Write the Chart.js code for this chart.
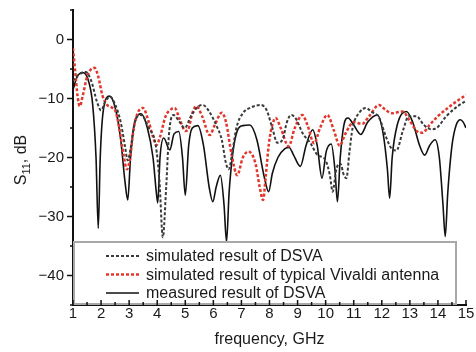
<!DOCTYPE html>
<html>
<head>
<meta charset="utf-8">
<script src="https://cdn.jsdelivr.net/npm/chart.js@4.4.1/dist/chart.umd.min.js"></script>
<style>
  html, body { margin: 0; padding: 0; background: #fff; }
  #wrap { width: 476px; height: 352px; }
</style>
</head>
<body>
<div id="wrap"><canvas id="s11"></canvas></div>
<script>
// S11 of the antennas
const xTicks = [1, 2, 3, 4, 5, 6, 7, 8, 9, 10, 11, 12, 13, 14, 15];
const yTicks = [0, -10, -20, -30, -40];

const simFreq = [1.0, 1.2, 1.45, 1.65, 1.85, 2.0, 2.15, 2.32, 2.5, 2.7, 2.85, 2.95, 3.05, 3.2, 3.43, 3.7, 3.95, 4.08, 4.2, 4.32, 4.42, 4.58, 4.8, 4.98, 5.2, 5.45, 5.62, 5.85, 6.1, 6.3, 6.45, 6.55, 6.68, 6.82, 7.05, 7.35, 7.69, 7.9, 8.1, 8.28, 8.48, 8.62, 8.78, 8.95, 9.18, 9.45, 9.7, 10.0, 10.15, 10.25, 10.38, 10.52, 10.65, 10.74, 10.85, 10.96, 11.2, 11.43, 11.65, 11.9, 12.15, 12.35, 12.52, 12.75, 12.96, 13.23, 13.5, 13.75, 13.95, 14.3, 14.65, 15.0];
const simDb = [-7, -6, -5.5, -7, -10.5, -12, -10.5, -9.7, -11, -14, -18, -20.5, -18.5, -14, -12.8, -15, -18, -24, -33.5, -25, -16, -12.8, -14, -15, -13, -11.4, -11.1, -12.2, -14.5, -17, -21, -22, -19, -15, -12.5, -11.5, -11.1, -12, -15, -17.5, -16.8, -14, -12.8, -13.5, -15.9, -17.5, -19.5, -20.5, -23, -25.8, -22, -21, -23, -23.5, -19, -15, -12.4, -11.6, -12.3, -13.2, -16.5, -18.5, -18.8, -15.5, -13, -13, -14.5, -15.2, -15, -13, -11.5, -10.4];

const vivFreq = [1.0, 1.08, 1.16, 1.24, 1.35, 1.5, 1.65, 1.77, 1.9, 2.05, 2.2, 2.37, 2.5, 2.65, 2.8, 2.92, 3.02, 3.15, 3.3, 3.49, 3.7, 3.85, 3.97, 4.1, 4.3, 4.5, 4.62, 4.8, 5.0, 5.1, 5.25, 5.4, 5.6, 5.87, 6.05, 6.3, 6.45, 6.65, 6.85, 7.05, 7.25, 7.5, 7.65, 7.77, 7.87, 7.98, 8.1, 8.22, 8.4, 8.68, 8.9, 9.17, 9.35, 9.59, 9.8, 10.06, 10.3, 10.5, 10.7, 11.0, 11.3, 11.55, 11.9, 12.15, 12.38, 12.6, 12.74, 13.0, 13.27, 13.45, 13.7, 14.0, 14.3, 14.6, 15.0];
const vivDb = [-1.5, -5.5, -9.5, -11.3, -9.5, -6.3, -5, -4.8, -6.3, -9.5, -11, -11.5, -12, -15, -19.5, -22, -20.5, -15.5, -12.5, -11.6, -14, -16.5, -17.9, -16.5, -13, -11.8, -11.6, -13.5, -15.5, -15.3, -12.5, -11.3, -13, -16.2, -14.5, -12.4, -14, -19.5, -23, -20, -19, -21, -25, -27.2, -23, -17.6, -14.5, -13.3, -15, -18.1, -15, -12.8, -14.5, -17.6, -15, -12.8, -15.5, -18, -16, -14, -14.3, -13, -11.1, -12, -12.5, -12.3, -12.2, -13.8, -15.6, -15.8, -14.5, -13, -11.8, -10.7, -9.4];

const measFreq = [1.0, 1.15, 1.35, 1.55, 1.7, 1.82, 1.9, 1.97, 2.08, 2.3, 2.5, 2.7, 2.85, 2.95, 3.05, 3.2, 3.43, 3.65, 3.85, 3.97, 4.02, 4.1, 4.23, 4.45, 4.6, 4.77, 4.9, 5.0, 5.12, 5.25, 5.45, 5.65, 5.85, 5.98, 6.1, 6.25, 6.38, 6.47, 6.56, 6.7, 6.85, 7.05, 7.3, 7.55, 7.8, 7.97, 8.1, 8.3, 8.55, 8.7, 8.85, 9.1, 9.3, 9.54, 9.7, 9.87, 10.02, 10.2, 10.33, 10.42, 10.52, 10.65, 10.8, 11.0, 11.25, 11.5, 11.84, 12.05, 12.2, 12.28, 12.37, 12.55, 12.88, 13.1, 13.35, 13.53, 13.7, 13.9, 14.05, 14.18, 14.26, 14.35, 14.5, 14.65, 14.8, 14.9, 15.0];
const measDb = [-8.5, -6.3, -5.6, -7, -11, -20, -32, -20, -12, -9.6, -11.5, -17, -24, -27.2, -20, -14, -12.6, -15, -20, -26, -27.7, -20, -16.7, -18.7, -16, -15.6, -20, -26.4, -18, -15, -14.6, -18, -25, -27.5, -25, -23, -28, -34.3, -26, -19, -15.5, -14.6, -14.5, -17, -23, -25.8, -22.7, -20, -18.5, -18.3, -19.5, -21.5, -18, -15.3, -18, -23.5, -19, -17.7, -22, -27.5, -20, -14.5, -13.3, -14.5, -16.1, -14, -12.8, -16, -22, -26.9, -20, -14.5, -12.2, -14, -18, -19.6, -18, -17, -20, -28, -33.4, -26, -18, -14.5, -13.6, -14, -15];

const FONT = '"Liberation Sans", Arial, sans-serif';

function pts(xs, ys) {
  return xs.map((x, i) => ({ x: x, y: ys[i] }));
}

// inward x ticks, outward y ticks, axis titles and the boxed legend
const decorPlugin = {
  id: 'decor',
  afterDatasetsDraw(chart) {
    const ctx = chart.ctx;
    const a = chart.chartArea;

    // legend box sits on the x axis
    const bx = a.left + 1, by = a.bottom - 63, bw = 382, bh = 62;
    ctx.save();
    ctx.fillStyle = '#fff';
    ctx.fillRect(bx, by, bw, bh);
    ctx.strokeStyle = '#a8a8a8';
    ctx.lineWidth = 2;
    ctx.strokeRect(bx, by, bw, bh);
    const rows = [a.bottom - 49, a.bottom - 30.5, a.bottom - 12];
    chart.data.datasets.forEach((ds, i) => {
      const y = rows[i];
      ctx.beginPath();
      ctx.strokeStyle = ds.borderColor;
      ctx.lineWidth = ds.borderWidth;
      ctx.setLineDash(ds.borderDash || []);
      ctx.moveTo(106, y);
      ctx.lineTo(139, y);
      ctx.stroke();
      ctx.setLineDash([]);
      ctx.fillStyle = '#1a1a1a';
      ctx.font = '16px ' + FONT;
      ctx.textBaseline = 'middle';
      ctx.textAlign = 'left';
      ctx.fillText(ds.label, 146, y + 1);
    });
    ctx.restore();
  },
  afterDraw(chart) {
    const ctx = chart.ctx;
    const xs = chart.scales.x, ys = chart.scales.y;
    const a = chart.chartArea;
    ctx.save();
    ctx.strokeStyle = '#111';
    ctx.lineWidth = 1.5;
    ctx.beginPath();
    for (let v = 1; v <= 15; v += 0.5) {
      const px = xs.getPixelForValue(v);
      const len = Number.isInteger(v) ? 5 : 3;
      ctx.moveTo(px, a.bottom);
      ctx.lineTo(px, a.bottom - len);
    }
    for (let v = -45; v <= 5; v += 5) {
      const py = ys.getPixelForValue(v);
      const len = v % 10 === 0 ? 6 : 3;
      ctx.moveTo(a.left, py);
      ctx.lineTo(a.left - len, py);
    }
    ctx.stroke();

    // axis titles
    ctx.fillStyle = '#1a1a1a';
    ctx.font = '16px ' + FONT;
    ctx.textAlign = 'center';
    ctx.textBaseline = 'middle';
    ctx.fillText('frequency, GHz', (a.left + a.right) / 2, 340);

    ctx.translate(22, 160);
    ctx.rotate(-Math.PI / 2);
    const big = '16px ' + FONT, small = '11px ' + FONT;
    ctx.font = big; const wS = ctx.measureText('S').width; const wT = ctx.measureText(', dB').width;
    ctx.font = small; const w11 = ctx.measureText('11').width;
    let x0 = -(wS + w11 + wT) / 2;
    ctx.textAlign = 'left';
    ctx.textBaseline = 'middle';
    ctx.font = big; ctx.fillText('S', x0, 0); x0 += wS;
    ctx.font = small; ctx.fillText('11', x0, 5); x0 += w11;
    ctx.font = big; ctx.fillText(', dB', x0, 0);
    ctx.restore();
  }
};

new Chart(document.getElementById('s11').getContext('2d'), {
  type: 'line',
  data: {
    datasets: [
      {
        label: 'simulated result of DSVA',
        data: pts(simFreq, simDb),
        borderColor: '#3a3a3a',
        borderWidth: 2,
        borderDash: [3, 2],
        pointRadius: 0,
        cubicInterpolationMode: 'monotone',
        fill: false
      },
      {
        label: 'simulated result of typical Vivaldi antenna',
        data: pts(vivFreq, vivDb),
        borderColor: '#e2372c',
        borderWidth: 2.5,
        borderDash: [3, 2],
        pointRadius: 0,
        cubicInterpolationMode: 'monotone',
        fill: false
      },
      {
        label: 'measured result of DSVA',
        data: pts(measFreq, measDb),
        borderColor: '#111',
        borderWidth: 1.6,
        pointRadius: 0,
        cubicInterpolationMode: 'monotone',
        fill: false
      }
    ]
  },
  options: {
    responsive: true,
    maintainAspectRatio: false,
    animation: false,
    events: [],
    layout: { padding: { left: 0, top: 10, right: 10, bottom: 0 } },
    scales: {
      x: {
        type: 'linear',
        min: 1,
        max: 15,
        afterFit: (s) => { s.height = 47; s.paddingLeft = 0; s.paddingRight = 0; },
        afterBuildTicks: (s) => { s.ticks = xTicks.map(v => ({ value: v })); },
        grid: { display: true, drawOnChartArea: false, drawTicks: false },
        border: { display: true, color: '#111', width: 2 },
        ticks: { padding: 0, color: '#1a1a1a', font: { size: 15, family: FONT }, maxRotation: 0, autoSkip: false }
      },
      y: {
        type: 'linear',
        min: -45,
        max: 5,
        afterFit: (s) => { s.width = 73; s.paddingTop = 0; s.paddingBottom = 0; },
        afterBuildTicks: (s) => { s.ticks = yTicks.map(v => ({ value: v })); },
        grid: { display: true, drawOnChartArea: false, drawTicks: false },
        border: { display: true, color: '#111', width: 2 },
        ticks: {
          padding: 9,
          color: '#1a1a1a',
          font: { size: 15, family: FONT },
          callback: (v) => String(v).replace('-', '\u2212')
        }
      }
    },
    plugins: {
      legend: { display: false },
      tooltip: { enabled: false }
    }
  },
  plugins: [decorPlugin]
});
</script>
</body>
</html>
